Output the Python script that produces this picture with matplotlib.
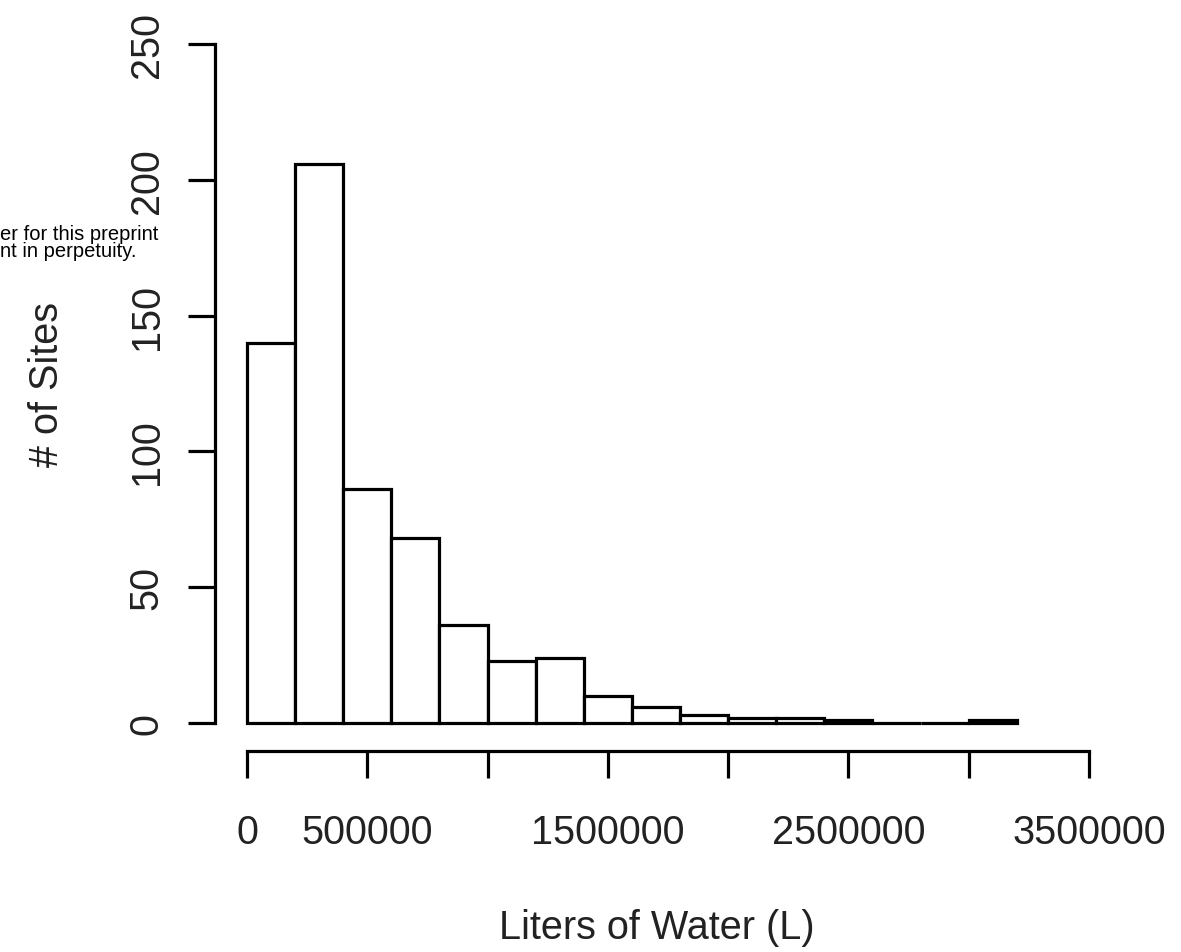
import matplotlib
matplotlib.use("Agg")
import matplotlib.pyplot as plt

# ---- data ----
bin_edges = [0, 200000, 400000, 600000, 800000, 1000000, 1200000, 1400000,
             1600000, 1800000, 2000000, 2200000, 2400000, 2600000, 2800000,
             3000000, 3200000]
counts = [140, 206, 86, 68, 36, 23, 24, 10, 6, 3, 2, 2, 1, 0, 0, 1]
x_ticks = [0, 500000, 1000000, 1500000, 2000000, 2500000, 3000000, 3500000]
x_tick_labels = ["0", "500000", "", "1500000", "", "2500000", "", "3500000"]
y_ticks = [0, 50, 100, 150, 200, 250]
y_tick_labels = ["0", "50", "100", "150", "200", "250"]
x_label = "Liters of Water (L)"
y_label = "# of Sites"
side_text = ["er for this preprint", "nt in perpetuity."]

plt.rcParams['font.family'] = ['Liberation Sans', 'DejaVu Sans']

W, H = 1181, 953
fig = plt.figure(figsize=(W / 100, H / 100), dpi=100)

ax_l, ax_r, ax_b, ax_t = 215, 1089, 752, 45
ax = fig.add_axes([ax_l / W, (H - ax_b) / H, (ax_r - ax_l) / W, (ax_b - ax_t) / H])

widths = [bin_edges[i + 1] - bin_edges[i] for i in range(len(counts))]
ax.bar(bin_edges[:-1], counts, width=widths, align='edge',
       facecolor='white', edgecolor='black', linewidth=2.3)

px_per_x = (1089 - 247) / 3.5e6
px_per_y = (724 - 45) / 250.0
ax.set_xlim(-(247 - ax_l) / px_per_x, 3.5e6)
ax.set_ylim(-(ax_b - 724) / px_per_y, 250)

for s in ['top', 'right']:
    ax.spines[s].set_visible(False)
ax.spines['left'].set_bounds(0, 250)
ax.spines['bottom'].set_bounds(0, 3.5e6)
for s in ['left', 'bottom']:
    ax.spines[s].set_linewidth(2.3)

fs = 28.5
ax.set_xticks(x_ticks)
ax.set_xticklabels(x_tick_labels)
ax.set_yticks(y_ticks)
ax.set_yticklabels(y_tick_labels)
ax.tick_params(axis='both', direction='out', length=19.5, width=2.3,
               labelsize=fs, colors='black')
ax.tick_params(axis='x', pad=25)
ax.tick_params(axis='y', pad=16)
for lab in ax.get_yticklabels():
    lab.set_rotation(90)
    lab.set_va('center')
for lab in ax.get_xticklabels() + ax.get_yticklabels():
    lab.set_color('#222222')

fig.text(656.5 / W, 1 - 939 / H, x_label, ha='center', va='baseline',
         fontsize=fs, color='#222222')
fig.text(58 / W, 1 - 385 / H, y_label, ha='center', va='baseline',
         rotation=90, rotation_mode='anchor', fontsize=fs, color='#222222')

fig.text(0 / W, 1 - 240 / H, side_text[0], ha='left', va='baseline',
         fontsize=14.5, color='black')
fig.text(0 / W, 1 - 257 / H, side_text[1], ha='left', va='baseline',
         fontsize=14.5, color='black')

fig.savefig("out.png", dpi=100, facecolor='white')
